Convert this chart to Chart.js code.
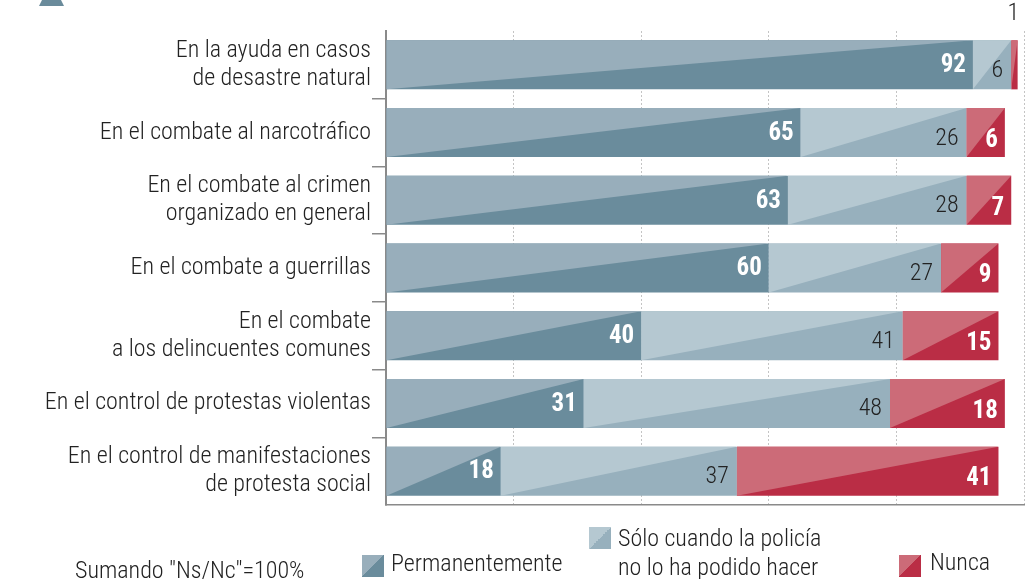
<!DOCTYPE html>
<html><head><meta charset="utf-8">
<script src="https://cdn.jsdelivr.net/npm/chart.js@4.4.1/dist/chart.umd.min.js"></script>
<style>
html,body{margin:0;padding:0;background:#fff;width:1036px;height:579px;overflow:hidden;}
#wrap{position:relative;width:1036px;height:579px;}
#c{position:absolute;left:0;top:0;}
.t{position:absolute;font-family:"Roboto Condensed","Liberation Sans Narrow","DejaVu Sans Condensed",Roboto,sans-serif;font-weight:300;font-size:24px;color:#222;line-height:29px;white-space:nowrap;}
.ic{position:absolute;width:22px;height:22px;}
#topmark{position:absolute;left:39px;top:0;width:25px;height:6px;background:#6a8b9b;clip-path:polygon(12% 0,88% 0,100% 100%,0 100%);}
</style>
</head><body>
<div id="wrap">
<canvas id="c" width="1036" height="579"></canvas>
<div id="topmark"></div>
<div class="t" style="left:75px;top:556px;">Sumando "Ns/Nc"=100%</div>
<div class="ic" style="left:362px;top:555px;background:linear-gradient(to bottom right,#98aebb 50%,#6a8c9c 50%);"></div>
<div class="t" style="left:391px;top:549px;">Permanentemente</div>
<div class="ic" style="left:589px;top:527px;background:linear-gradient(to bottom right,#b5c8d1 50%,#97b0bd 50%);"></div>
<div class="t" style="left:618px;top:524px;">Sólo cuando la policía<br>no lo ha podido hacer</div>
<div class="ic" style="left:899px;top:555px;background:linear-gradient(to bottom right,#cc6b78 50%,#ba2d45 50%);"></div>
<div class="t" style="left:930px;top:548px;">Nunca</div>
</div>
<script>
const FONT = '"Roboto Condensed","Liberation Sans Narrow","DejaVu Sans Condensed",Roboto,sans-serif';
const categories = [
  ["En la ayuda en casos","de desastre natural"],
  "En el combate al narcotráfico",
  ["En el combate al crimen","organizado en general"],
  "En el combate a guerrillas",
  ["En el combate","a los delincuentes comunes"],
  "En el control de protestas violentas",
  ["En el control de manifestaciones","de protesta social"]
];
const permanentemente = [92, 65, 63, 60, 40, 31, 18];
const soloCuando = [6, 26, 28, 27, 41, 48, 37];
const nunca = [1, 6, 7, 9, 15, 18, 41];
const seriesNames = ["Permanentemente","Sólo cuando la policía no lo ha podido hacer","Nunca"];
const xTicks = [0, 20, 40, 60, 80, 100];

const DARK = ['#6a8c9c','#97b0bd','#ba2d45'];
const LIGHT = ['#98aebb','#b5c8d1','#cc6b78'];
const LBL = [
  {color:'#fff', weight:'bold', size:25, pad:7, dy:1},
  {color:'#222', weight:'300', size:24, pad:8, dy:6},
  {color:'#fff', weight:'bold', size:25, pad:7, dy:8}
];

const diagPlugin = {
  id:'diag',
  afterDatasetsDraw(chart){
    const ctx = chart.ctx;
    chart.data.datasets.forEach((ds,di)=>{
      const meta = chart.getDatasetMeta(di);
      meta.data.forEach((bar,i)=>{
        const p = bar.getProps(['x','y','base','height'], true);
        const left = Math.min(p.x,p.base), right = Math.max(p.x,p.base);
        const top = p.y - p.height/2, bottom = p.y + p.height/2;
        ctx.save();
        ctx.fillStyle = LIGHT[di];
        ctx.beginPath();
        ctx.moveTo(left,bottom); ctx.lineTo(left,top); ctx.lineTo(right,top);
        ctx.closePath(); ctx.fill();
        ctx.restore();
      });
    });
    chart.data.datasets.forEach((ds,di)=>{
      const meta = chart.getDatasetMeta(di);
      meta.data.forEach((bar,i)=>{
        const v = ds.data[i];
        const p = bar.getProps(['x','y','base','height'], true);
        const left = Math.min(p.x,p.base), right = Math.max(p.x,p.base);
        const top = p.y - p.height/2;
        const s = LBL[di];
        ctx.save();
        ctx.textBaseline = 'middle';
        if (v < 3) {
          ctx.font = '300 24px ' + FONT;
          ctx.fillStyle = '#222';
          ctx.textAlign = 'center';
          ctx.fillText(String(v), (left+right)/2 - 1, top - 26);
        } else {
          ctx.font = s.weight + ' ' + s.size + 'px ' + FONT;
          ctx.fillStyle = s.color;
          ctx.textAlign = 'right';
          ctx.fillText(String(v), right - s.pad, p.y + s.dy);
        }
        ctx.restore();
      });
    });
  }
};

const data = {
  labels: categories,
  datasets: [
    {label: seriesNames[0], data: permanentemente, backgroundColor: DARK[0]},
    {label: seriesNames[1], data: soloCuando, backgroundColor: DARK[1]},
    {label: seriesNames[2], data: nunca, backgroundColor: DARK[2]}
  ]
};

new Chart(document.getElementById('c'), {
  type:'bar',
  data,
  plugins:[diagPlugin],
  options:{
    indexAxis:'y',
    responsive:false,
    animation:false,
    devicePixelRatio:1,
    layout:{padding:{top:31,bottom:74,right:12,left:0}},
    datasets:{bar:{barPercentage:0.724, categoryPercentage:1, borderWidth:0}},
    plugins:{legend:{display:false}, tooltip:{enabled:false}},
    scales:{
      x:{
        stacked:true, min:0, max:100,
        afterBuildTicks(scale){ scale.ticks = xTicks.map(v=>({value:v})); },
        ticks:{display:false},
        grid:{color:'#c4c4c4', lineWidth:1, drawTicks:false},
        border:{display:true, color:'#8a8a8a', width:1.5, dash:[2,2]},
        afterFit(scale){ scale.height = 0; }
      },
      y:{
        stacked:true,
        ticks:{color:'#222', padding:1, font:{family:FONT, size:24, weight:'300', lineHeight:1.17}},
        grid:{drawOnChartArea:false, drawTicks:true, tickLength:14, lineWidth:1.5,
          color:(c)=> (c.index === 0 || c.index === undefined || c.type !== 'tick') ? 'rgba(0,0,0,0)' : '#8a8a8a'},
        border:{display:true, color:'#8a8a8a', width:2},
        afterFit(scale){ scale.width = 386; }
      }
    }
  }
});
</script>
</body></html>
